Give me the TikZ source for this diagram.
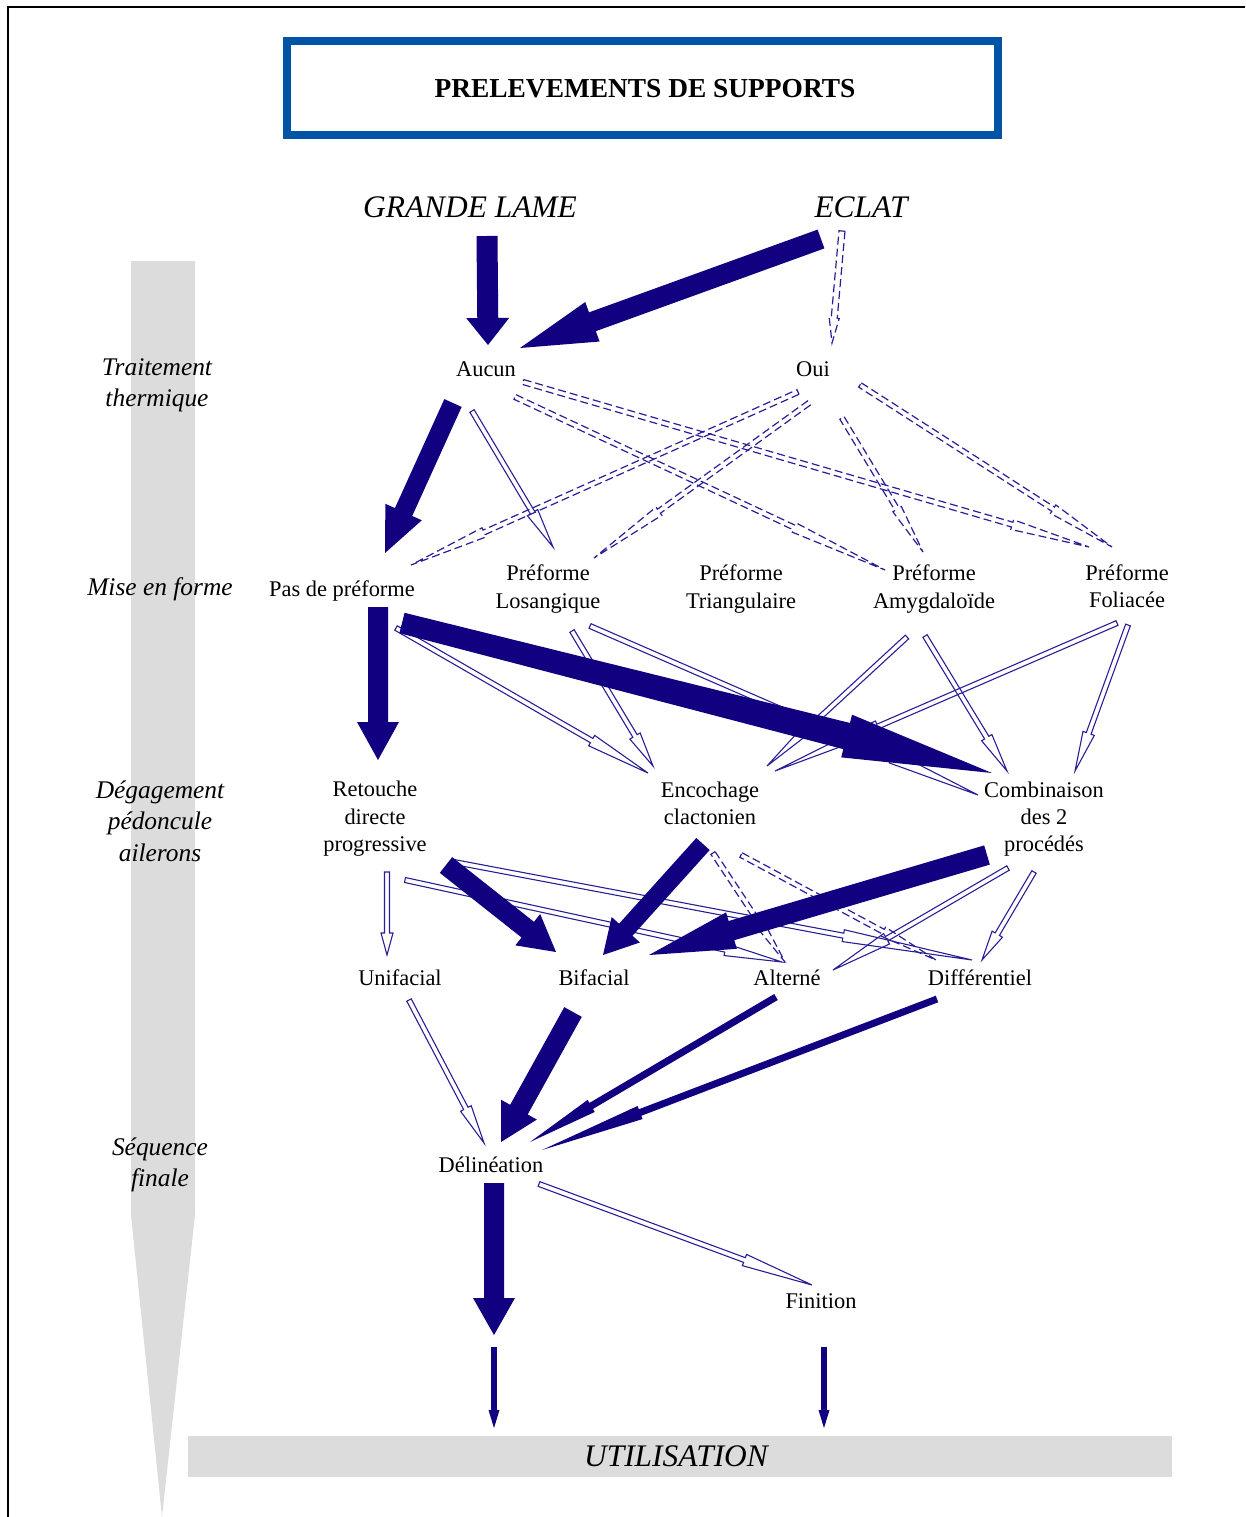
\documentclass[tikz,border=0pt]{standalone}
\usepackage{fontspec}
\setmainfont{Liberation Serif}
\usetikzlibrary{calc}
\definecolor{navy}{RGB}{17,0,128}
\definecolor{lineblue}{RGB}{40,30,150}
\definecolor{titleblue}{RGB}{0,84,166}
\definecolor{bargrey}{RGB}{220,220,220}
\tikzset{
  lbl/.style={font=\fontsize{22.5}{27.5}\selectfont, align=center, inner sep=0pt},
  phase/.style={font=\fontsize{25.5}{31.5}\selectfont\itshape, align=center, inner sep=0pt},
  big/.style={font=\fontsize{31.5}{36}\selectfont\itshape, inner sep=0pt},
  hol/.style={draw=lineblue, line width=1.1bp, line join=miter},
  dsh/.style={dash pattern=on 8bp off 4bp, line width=1.2bp},
}
% fat filled arrow: from, to, shaft hw at start, shaft hw at head base, head hw, head length
\newcommand\FatArr[6]{%
  \coordinate (hb) at ($(#2)!#6bp!(#1)$);
  \fill[navy] ($(#1)!#3bp!90:(#2)$) -- ($(hb)!#4bp!90:(#2)$) -- ($(hb)!#5bp!90:(#2)$) -- (#2)
    -- ($(hb)!#5bp!-90:(#2)$) -- ($(hb)!#4bp!-90:(#2)$) -- ($(#1)!#3bp!-90:(#2)$) -- cycle;}
% hollow outlined arrow
\newcommand\HolArr[7][]{%
  \coordinate (hb) at ($(#3)!#7bp!(#2)$);
  \draw[hol,#1] ($(#2)!#4bp!90:(#3)$) -- ($(hb)!#5bp!90:(#3)$) -- ($(hb)!#6bp!90:(#3)$) -- (#3)
    -- ($(hb)!#6bp!-90:(#3)$) -- ($(hb)!#5bp!-90:(#3)$) -- ($(#2)!#4bp!-90:(#3)$) -- cycle;}
\begin{document}
\begin{tikzpicture}[x=1bp,y=-1bp]
\path[use as bounding box] (0,0) rectangle (1245,1517);
% frame
\draw[line width=2.5bp] (8,1517) -- (8,7) -- (1245,7);
% grey phase bar
\fill[bargrey] (131,261) -- (195,261) -- (195,1215) -- (162,1517) -- (131,1215) -- cycle;
% utilisation bar
\fill[bargrey] (188,1436) rectangle (1172,1477);
\node[big] (util) at (676,1456) {UTILISATION};
% title
\draw[titleblue, line width=8bp] (287,41) rectangle (998,135);
\node[font=\fontsize{27.5}{30}\selectfont\bfseries, inner sep=0pt] (title) at (645,89) {PRELEVEMENTS DE SUPPORTS};
% phase labels
\node[phase] (ph1) at (157,385) {Traitement\\thermique};
\node[phase] (ph2) at (160,589) {Mise en forme};
\node[phase] (ph3) at (160,821) {Dégagement\\pédoncule\\ailerons};
\node[phase] (ph4) at (160,1165) {Séquence\\finale};
% sources
\node[big] (gl) at (470,207) {GRANDE LAME};
\node[big] (eclat) at (861,207) {ECLAT};
% nodes
\node[lbl] (aucun) at (486,369) {Aucun};
\node[lbl] (oui) at (813,369) {Oui};
\node[lbl] (pdp) at (342,591) {Pas de préforme};
\node[lbl] (los) at (548,589) {Préforme\\Losangique};
\node[lbl] (tri) at (741,589) {Préforme\\Triangulaire};
\node[lbl] (amy) at (934,589) {Préforme\\Amygdaloïde};
\node[lbl] (fol) at (1127,586.5) {Préforme\\Foliacée};
\node[lbl] (ret) at (375,819) {Retouche\\directe\\progressive};
\node[lbl] (enc) at (710,803.5) {Encochage\\clactonien};
\node[lbl] (comb) at (1044,819) {Combinaison\\des 2\\procédés};
\node[lbl] (uni) at (400,978) {Unifacial};
\node[lbl] (bif) at (594,978) {Bifacial};
\node[lbl] (alt) at (787,978) {Alterné};
\node[lbl] (dif) at (980,978) {Différentiel};
\node[lbl] (del) at (491,1165) {Délinéation};
\node[lbl] (fin) at (821,1301) {Finition};
% connector end points
\coordinate (glS) at (487,236);   \coordinate (aucT1) at (488,345);
\coordinate (ecS) at (821,239);   \coordinate (aucT2) at (520,348);
\coordinate (ecS2) at (842,231);  \coordinate (ouiT) at (832,343);
\coordinate (aucS1) at (453,403); \coordinate (pdpT) at (385,553);
\coordinate (aucS2) at (472,411); \coordinate (losT1) at (553,547);
\coordinate (aucS3) at (515,397); \coordinate (amyT1) at (885,570);
\coordinate (aucS4) at (523,382); \coordinate (folT1) at (1089,547);
\coordinate (ouiS1) at (798,392); \coordinate (pdpT2) at (411,565);
\coordinate (ouiS2) at (809,403); \coordinate (losT2) at (594,558);
\coordinate (ouiS3) at (842,418); \coordinate (amyT2) at (923,552);
\coordinate (ouiS4) at (860,385); \coordinate (folT2) at (1112,547);
\coordinate (pdpS1) at (378,607); \coordinate (retT) at (378,760);
\coordinate (pdpS2) at (402,623); \coordinate (combT1) at (992,773);
\coordinate (pdpS3) at (396,628); \coordinate (encT1) at (648,773);
\coordinate (losS1) at (572,631); \coordinate (encT2) at (653,766);
\coordinate (losS2) at (590,626); \coordinate (combT2) at (978,795);
\coordinate (amyS1) at (907,637); \coordinate (encT3) at (767,766);
\coordinate (amyS2) at (925,636); \coordinate (combT3) at (1007,771);
\coordinate (folS1) at (1117,623); \coordinate (encT4) at (775,771);
\coordinate (folS2) at (1128,625); \coordinate (combT4) at (1075,771);
\coordinate (retS1) at (387,872); \coordinate (uniT) at (387,955);
\coordinate (retS2) at (405,880); \coordinate (altT1) at (782,962);
\coordinate (retS3) at (454,862); \coordinate (difT1) at (972,960);
\coordinate (retS4) at (446,865); \coordinate (bifT1) at (556,952);
\coordinate (encS1) at (703,844); \coordinate (bifT2) at (603,955);
\coordinate (encS2) at (713,853); \coordinate (altT2) at (785,962);
\coordinate (encS3) at (741,855); \coordinate (difT2) at (936,960);
\coordinate (combS1) at (987,855); \coordinate (bifT3) at (649,955);
\coordinate (combS2) at (1008,868); \coordinate (altT3) at (833,970);
\coordinate (combS3) at (1034,872); \coordinate (difT3) at (982,960);
\coordinate (uniS) at (409,1000); \coordinate (delT1) at (484,1143);
\coordinate (bifS) at (573,1012); \coordinate (delT2) at (501,1142);
\coordinate (altS) at (776,997); \coordinate (delT3) at (530,1142);
\coordinate (difS) at (937,999); \coordinate (delT4) at (542,1150);
\coordinate (delS1) at (494,1183); \coordinate (delE) at (494,1335);
\coordinate (delS2) at (539,1184); \coordinate (finT) at (812,1285);
\coordinate (u1S) at (494,1347); \coordinate (u1T) at (494,1428);
\coordinate (u2S) at (824,1347); \coordinate (u2T) at (824,1428);
% dashed hollow arrows
\HolArr[dsh]{ecS2}{ouiT}{3}{3}{5}{25}
\HolArr[dsh]{aucS3}{amyT1}{2.5}{2.5}{5}{100}
\HolArr[dsh]{aucS4}{folT1}{2.5}{2.5}{5}{80}
\HolArr[dsh]{ouiS1}{pdpT2}{2.5}{2.5}{5}{80}
\HolArr[dsh]{ouiS2}{losT2}{2.5}{2.5}{5}{80}
\HolArr[dsh]{ouiS3}{amyT2}{2.5}{2.5}{5}{50}
\HolArr[dsh]{ouiS4}{folT2}{2.5}{2.5}{5}{70}
\HolArr[dsh]{encS2}{altT2}{2.5}{2.5}{5}{50}
\HolArr[dsh]{encS3}{difT2}{2.5}{2.5}{5}{60}
% hollow arrows
\HolArr{aucS2}{losT1}{2.5}{2.5}{6}{40}
\HolArr{pdpS3}{encT1}{2.5}{2.5}{6}{65}
\HolArr{losS1}{encT2}{2.5}{2.5}{6}{35}
\HolArr{losS2}{combT2}{2.5}{2.5}{6}{94}
\HolArr{amyS1}{encT3}{2.5}{2.5}{6}{69}
\HolArr{amyS2}{combT3}{2.5}{2.5}{6}{39}
\HolArr{folS1}{encT4}{2.5}{2.5}{6}{112}
\HolArr{folS2}{combT4}{2.5}{2.5}{6}{40}
\HolArr{retS1}{uniT}{2.5}{2.5}{6}{22}
\HolArr{retS2}{altT1}{2.5}{2.5}{6}{58}
\HolArr{retS3}{difT1}{2.5}{2.5}{6}{131}
\HolArr{combS2}{altT3}{2.5}{2.5}{6}{62}
\HolArr{combS3}{difT3}{2.5}{2.5}{6}{30}
\HolArr{uniS}{delT1}{2.5}{2.5}{6}{39}
\HolArr{delS2}{finT}{2.5}{2.5}{6}{72}
% fat arrows
\FatArr{glS}{aucT1}{10.5}{10.5}{21.5}{27}
\FatArr{ecS}{aucT2}{10}{10}{21}{77}
\FatArr{aucS1}{pdpT}{9.5}{9.5}{20}{45}
\FatArr{pdpS1}{retT}{10}{10}{21}{38}
\FatArr{pdpS2}{combT1}{10.5}{13.5}{22}{150}
\FatArr{retS4}{bifT1}{10}{10}{20}{36}
\FatArr{encS1}{bifT2}{9}{9}{19}{34}
\FatArr{combS1}{bifT3}{10}{10}{19}{86}
\FatArr{bifS}{delT2}{10}{10}{20.5}{37}
\FatArr{altS}{delT3}{3.5}{3.5}{7}{71}
\FatArr{difS}{delT4}{3.5}{3.5}{7}{105}
\FatArr{delS1}{delE}{10}{10}{21}{37}
\FatArr{u1S}{u1T}{2.8}{2.8}{5.5}{18}
\FatArr{u2S}{u2T}{2.8}{2.8}{5.5}{18}
\end{tikzpicture}
\end{document}
